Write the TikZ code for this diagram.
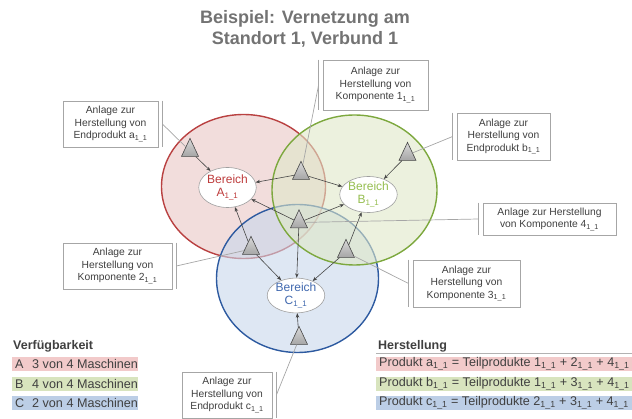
\documentclass[tikz,border=0pt]{standalone}
\usepackage{fontspec}
\setmainfont{Liberation Sans}
\usetikzlibrary{shapes.geometric,arrows.meta}
\definecolor{redE}{RGB}{185,65,65}
\definecolor{redF}{RGB}{233,198,197}
\definecolor{greenE}{RGB}{125,168,62}
\definecolor{greenF}{RGB}{223,232,200}
\definecolor{blueE}{RGB}{45,90,160}
\definecolor{blueF}{RGB}{200,215,235}
\definecolor{redT}{RGB}{190,60,60}
\definecolor{greenT}{RGB}{150,190,80}
\definecolor{blueT}{RGB}{65,105,175}
\definecolor{txt}{RGB}{64,64,64}
\definecolor{titlegray}{RGB}{115,115,115}
\definecolor{legA}{RGB}{242,202,202}
\definecolor{legB}{RGB}{216,228,190}
\definecolor{legC}{RGB}{188,206,230}
\begin{document}
\begin{tikzpicture}[x=1pt,y=-1pt,
  zone/.style={ellipse, line width=1.4pt, fill opacity=0.6, inner sep=0pt},
  bereich/.style={ellipse, draw=gray!75, line width=0.6pt, fill=white, inner sep=0pt, align=center, font=\fontsize{12}{12.5}\selectfont},
  tri/.style={isosceles triangle, isosceles triangle apex angle=50, isosceles triangle stretches, shape border rotate=90, minimum width=17pt, minimum height=18pt, inner sep=0pt, draw=gray!55!black, line width=0.6pt, top color=gray!30, bottom color=gray!70},
  arr/.style={draw=gray!55!black, line width=0.6pt, -{Stealth[length=4.5pt,width=3.5pt]}},
  conn/.style={draw=gray!70, line width=0.7pt},
  lbl/.style={rectangle, draw=gray!70, line width=0.8pt, fill=white, inner sep=0pt, align=center, text=txt, font=\fontsize{10.3}{12.5}\selectfont},
  accent/.style={draw=gray!70, line width=0.8pt},
  legbar/.style={rectangle, anchor=west, inner xsep=3pt, inner ysep=0pt, minimum height=14pt, text=txt},
  leghead/.style={anchor=base west, inner sep=0pt, text=txt, font=\bfseries\fontsize{12.5}{14}\selectfont}
]
\useasboundingbox (0,0) rectangle (632,419);

% title
\node[font=\bfseries\fontsize{18}{21}\selectfont, text=titlegray, align=center] (title) at (305,28.5) {Beispiel: Vernetzung am\\Standort 1, Verbund 1};

% zones
\node[zone, draw=redE, fill=redF, minimum width=164pt, minimum height=144pt] (zA) at (243.5,186.5) {};
\node[zone, draw=blueE, fill=blueF, minimum width=162pt, minimum height=148pt] (zC) at (297.5,278.5) {};
\node[zone, draw=greenE, fill=greenF, minimum width=165pt, minimum height=150pt] (zB) at (354.5,190) {};

% Bereich nodes
\node[bereich, minimum width=50pt, minimum height=40pt, text=redT] (bA) at (227.5,187.5) {Bereich\\A\textsubscript{1\_1}};
\node[bereich, minimum width=48pt, minimum height=36pt, text=greenT] (bB) at (368.5,194.5) {Bereich\\B\textsubscript{1\_1}};
\node[bereich, minimum width=56pt, minimum height=32pt, text=blueT] (bC) at (296,295.5) {Bereich\\C\textsubscript{1\_1}};

% triangles
\node[tri] (Ta) at (190,151) {};
\node[tri] (T1) at (301,174) {};
\node[tri] (Tb) at (407.5,155) {};
\node[tri] (T4) at (299,222.5) {};
\node[tri] (T2) at (251,249) {};
\node[tri] (T3) at (346,252) {};
\node[tri] (Tc) at (299,339) {};

% arrows
\draw[arr] (Ta) -- (bA);
\draw[arr] (T1) -- (bA);
\draw[arr] (T1) -- (bB);
\draw[arr] (Tb) -- (bB);
\draw[arr] (T4) -- (bA);
\draw[arr] (T4) -- (bB);
\draw[arr] (T4) -- (bC);
\draw[arr] (T2) -- (bA);
\draw[arr] (T2) -- (bC);
\draw[arr] (T3) -- (bB);
\draw[arr] (T3) -- (bC);
\draw[arr] (Tc) -- (bC);

% label boxes
\node[lbl, minimum width=95pt, minimum height=46pt] (La) at (110.5,124) {Anlage zur\\Herstellung von\\Endprodukt a\textsubscript{1\_1}};
\node[lbl, minimum width=105pt, minimum height=50pt] (L1) at (375.5,85) {Anlage zur\\Herstellung von\\Komponente 1\textsubscript{1\_1}};
\node[lbl, minimum width=93pt, minimum height=47pt] (Lb) at (503.5,136.5) {Anlage zur\\Herstellung von\\Endprodukt b\textsubscript{1\_1}};
\node[lbl, minimum width=133pt, minimum height=32pt] (L4) at (549.5,219) {Anlage zur Herstellung\\von Komponente 4\textsubscript{1\_1}};
\node[lbl, minimum width=107pt, minimum height=47pt] (L3) at (466.5,283.5) {Anlage zur\\Herstellung von\\Komponente 3\textsubscript{1\_1}};
\node[lbl, minimum width=109pt, minimum height=46pt] (L2) at (117.5,266) {Anlage zur\\Herstellung von\\Komponente 2\textsubscript{1\_1}};
\node[lbl, minimum width=90pt, minimum height=46pt] (Lc) at (227,395) {Anlage zur\\Herstellung von\\Endprodukt c\textsubscript{1\_1}};

% accent bars (right side)
\draw[accent] ([xshift=4pt]La.north east) -- ([xshift=4pt]La.south east);
\coordinate (Lab) at ([xshift=4pt]La.east);
\draw[accent] ([xshift=4pt]L2.north east) -- ([xshift=4pt]L2.south east);
\coordinate (L2b) at ([xshift=4pt]L2.east);
\draw[accent] ([xshift=4pt]Lc.north east) -- ([xshift=4pt]Lc.south east);
\coordinate (Lcb) at ([xshift=4pt]Lc.east);
% accent bars (left side)
\draw[accent] ([xshift=-4pt]L1.north west) -- ([xshift=-4pt]L1.south west);
\coordinate (L1b) at ([xshift=-4pt]L1.west);
\draw[accent] ([xshift=-4pt]Lb.north west) -- ([xshift=-4pt]Lb.south west);
\coordinate (Lbb) at ([xshift=-4pt]Lb.west);
\draw[accent] ([xshift=-4pt]L4.north west) -- ([xshift=-4pt]L4.south west);
\coordinate (L4b) at ([xshift=-4pt]L4.west);
\draw[accent] ([xshift=-4pt]L3.north west) -- ([xshift=-4pt]L3.south west);
\coordinate (L3b) at ([xshift=-4pt]L3.west);

% connectors
\draw[conn] (Lab) -- (Ta);
\draw[conn] (L1b) -- (T1);
\draw[conn] (Lbb) -- (Tb);
\draw[conn] (L4b) -- (T4);
\draw[conn] (L3b) -- (T3);
\draw[conn] (L2b) -- (T2);
\draw[conn] (Lcb) -- (Tc);

% legend left
\node[leghead] (vh) at (13,350) {Verfügbarkeit};
\node[legbar, fill=legA, font=\fontsize{12.6}{14}\selectfont] (vA) at (12,364) {\makebox[120pt][l]{\makebox[17pt][l]{A}3 von 4 Maschinen}};
\node[legbar, fill=legB, font=\fontsize{12.6}{14}\selectfont] (vB) at (12,384) {\makebox[120pt][l]{\makebox[17pt][l]{B}4 von 4 Maschinen}};
\node[legbar, fill=legC, font=\fontsize{12.6}{14}\selectfont] (vC) at (12,403) {\makebox[120pt][l]{\makebox[17pt][l]{C}2 von 4 Maschinen}};

% legend right
\node[leghead] (hh) at (378,350) {Herstellung};
\draw[draw=gray!60, line width=0.5pt] (376,353) -- (632,353);
\node[legbar, fill=legA, font=\fontsize{12.6}{14}\selectfont] (hA) at (376,364) {\makebox[250pt][l]{Produkt a\textsubscript{1\_1} = Teilprodukte 1\textsubscript{1\_1} + 2\textsubscript{1\_1} + 4\textsubscript{1\_1}}};
\node[legbar, fill=legB, font=\fontsize{12.6}{14}\selectfont] (hB) at (376,384) {\makebox[250pt][l]{Produkt b\textsubscript{1\_1} = Teilprodukte 1\textsubscript{1\_1} + 3\textsubscript{1\_1} + 4\textsubscript{1\_1}}};
\node[legbar, fill=legC, font=\fontsize{12.6}{14}\selectfont] (hC) at (376,403) {\makebox[250pt][l]{Produkt c\textsubscript{1\_1} = Teilprodukte 2\textsubscript{1\_1} + 3\textsubscript{1\_1} + 4\textsubscript{1\_1}}};
\end{tikzpicture}
\end{document}
